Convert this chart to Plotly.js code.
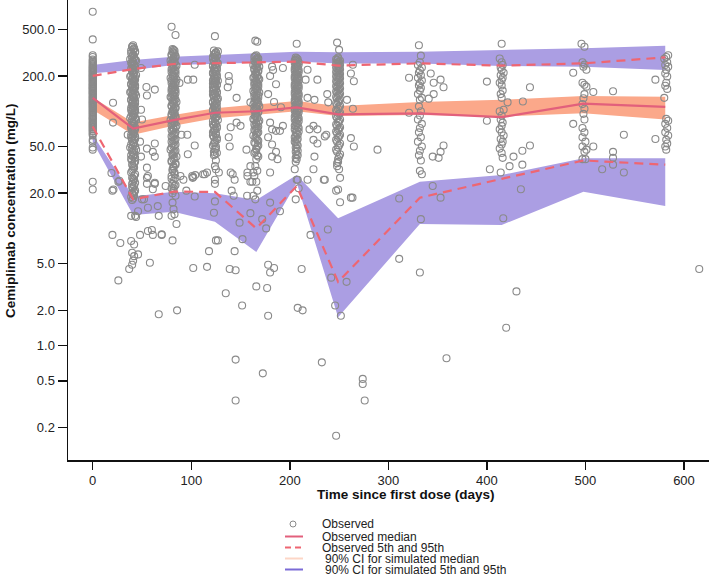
<!DOCTYPE html>
<html><head><meta charset="utf-8">
<script src="https://cdn.plot.ly/plotly-3.0.1.min.js"></script>
<style>html,body{margin:0;padding:0;background:#fff}#chart{width:709px;height:578px}</style>
</head><body><div id="chart"></div>
<script>
// nominal visit days (bin centres)
const bins = [0, 41, 82, 124, 166, 207, 249, 332, 415, 498, 581];
const obsMedian = [130, 71, 84, 97, 100, 108, 94, 96, 89, 116, 109];
const obsP5 = [74, 17.7, 20.6, 20.5, 10, 23, 3.5, 18.3, 26.5, 38, 35];
const obsP95 = [200, 229, 253, 256, 259, 265, 245, 256, 245, 256, 288];
const simMedLo = [103, 63, 75, 87, 93, 100, 91, 93, 90, 96, 85];
const simMedHi = [131, 80, 93, 106, 114, 122, 111, 120, 125, 135, 133];
const simP5Lo = [55, 13.0, 13.9, 11.4, 6.3, 24.5, 1.75, 10.9, 10.7, 20.6, 15.5];
const simP5Hi = [63, 18.7, 20.6, 20, 17.5, 28.6, 12.2, 25, 28.6, 39.6, 39.6];
const simP95Lo = [211, 225, 248, 256, 259, 265, 256, 256, 243, 240, 225];
const simP95Hi = [248, 273, 292, 301, 312, 322, 318, 322, 333, 344, 362];

// observed concentrations, day 0
const visit0Conc = [706,410,300,290,276,263,251,241,233,224,217,210,203,197,190,184,178,171,166,160,156,150,145,141,135,130,126,121,117,113,109,105,101,97,93,89,86,82,79,76,73,70,67,64,62,57,55,49,47,25,21.5,
  270,258,246,236,228,220,213,206,200,193,187,181,175,169,163,158,153,148,143,138,133,128,123,119,115,111,107,103,99,95,91,87,84,80,77,74,71,68,65];
// [day, conc]
const visit42 = [[41,365],[40,352],[42,340],[39,330],[43,318],[41,305],[40,296],[42,287],[38,278],[44,270],[41,262],[40,254],[42,246],[43,238],[39,231],[41,224],[40,217],[42,210],[44,204],[38,198],[41,192],[43,186],[40,180],[42,174],[39,169],[41,164],[43,159],[40,154],[42,149],[38,145],[41,140],[44,136],[40,132],[42,128],[39,124],[41,120],[43,116],[40,112],[42,109],[41,105],[39,102],[43,99],[40,96],[42,93],[41,90],[38,87],[44,84],[40,81],[42,78],[41,75],[39,72],[43,70],[40,67],[42,65],[41,62],[39,60],[43,58],[40,56],[42,53],[41,51],[38,49],[44,47],[40,45],[42,43],[41,41],[39,39],[43,37],[40,35],[42,33],[41,32],[39,30],[43,29],[40,27],[42,26],[41,25],[40,24],[42,23],[41,22],[43,21],[40,20],[42,19],[41,18],[40,17.5],[43,12.8],[44,12.5],[46,14],[39,12.8]];
const visit42b = [[40,357],[42,345],[41,335],[43,324],[39,312],[41,300],[42,291],[40,282],[43,274],[41,266],[39,258],[42,250],[40,242],[41,234],[43,227],[40,220],[42,213],[41,207],[39,201],[43,195],[40,189],[42,183],[41,177],[39,171],[43,166],[40,161],[42,156],[41,151],[39,147],[43,142],[40,138],[42,134],[41,130],[39,126],[43,122],[40,118],[42,114],[41,110],[39,107],[43,103],[40,100],[42,97],[41,94],[39,91],[43,88],[40,85],[42,82],[41,79],[39,76],[43,73],[40,71],[42,68],[41,66],[39,63],[43,61],[40,59],[42,57],[41,54],[39,52],[43,50],[40,48],[42,46],[41,44],[39,42],[43,40],[40,38],[42,36],[41,34],[40,31],[42,28],[41,26.5],[43,24.5],[40,22.5],[42,20.5],[41,19.5],[39,18.5]];
const scatter42 = [[20.6,118],[20.6,80],[19,29.7],[21,21.5],[26,25],[35.5,63],[49,234],[54.5,161],[63,153],[55,136],[49,103],[50,85],[48,55],[55,48],[63,53],[61,45],[63,41],[49,41],[55,33],[55,27],[63,24.5],[55,24],[61,21.6],[50,17.7],[66,15.5],[20,21],[27,25.5],[20,8.8],[28,7.5],[26,3.6],[39,7.8],[42,7.3],[40,6.2],[42,5.8],[41,5.3],[40,4.9],[46,6.0],[37,4.5],[48,8.8],[56,9.5],[60,9.7],[61,8.8],[70,8.8],[58,5.1],[67,12.8],[56,15],[63,24],[56,28],[52,17.7],[67,1.85]];
const visit84 = [[80,526],[84,447],[82,334],[81,322],[83,310],[80,300],[84,290],[82,280],[79,270],[83,261],[81,252],[85,244],[82,236],[80,228],[84,220],[82,213],[81,206],[83,199],[79,192],[85,186],[82,180],[80,174],[84,168],[82,162],[81,157],[83,152],[80,147],[84,142],[82,137],[79,132],[83,128],[81,124],[85,120],[82,116],[80,112],[84,108],[82,104],[81,100],[83,97],[80,94],[84,90],[82,87],[79,84],[83,81],[81,78],[85,75],[82,72],[80,69],[84,66],[82,63],[81,60],[83,57],[80,55],[84,52],[82,50],[79,47],[83,45],[81,43],[85,41],[82,39],[80,37],[84,35],[82,33],[81,31],[83,30],[80,28],[84,27],[82,25.5],[81,24],[83,23],[80,22],[82,21],[84,19],[81,16.6],[82,14.6],[80,12.8],[83,13.2]];
const visit84b = [[81,340],[83,328],[82,316],[80,305],[84,295],[82,285],[81,275],[83,265],[80,257],[84,248],[82,240],[81,232],[83,224],[80,216],[84,209],[82,202],[81,196],[83,189],[80,183],[84,177],[82,171],[81,165],[83,160],[80,155],[84,150],[82,145],[81,140],[83,135],[80,130],[84,126],[82,122],[81,118],[83,114],[80,110],[84,106],[82,102],[81,99],[83,95],[80,92],[84,88],[82,85],[81,82],[83,79],[80,76],[84,73],[82,70],[81,67],[83,64],[80,61],[84,58],[82,56],[81,53],[83,51],[80,49],[84,46],[82,44],[81,42],[83,40],[80,38],[84,36],[82,34],[81,32],[83,29],[80,26.5],[84,23.5],[82,22],[81,20]];
const scatter84 = [[103.5,249],[96.5,186],[102,186],[88,174],[96,63],[90,63],[96.5,43],[101,28],[102,27.5],[104,28.5],[113.7,29],[103.5,18.7],[74,23],[103.5,51],[85,10.9],[81,7.9],[102,4.6],[95,21],[89,28],[92,26],[85.6,2.0],[70,8.9]];
const visit126 = [[124,437],[127,324],[125,315],[123,305],[126,296],[124,287],[122,279],[125,271],[123,263],[127,256],[124,249],[122,242],[126,235],[124,228],[123,222],[125,216],[122,210],[126,204],[124,198],[123,192],[125,187],[127,182],[124,177],[122,172],[126,167],[124,162],[123,157],[125,152],[122,148],[126,144],[124,140],[123,136],[125,132],[127,128],[124,124],[122,120],[126,117],[124,113],[123,110],[125,106],[122,103],[126,100],[124,96],[123,92],[125,88],[127,84],[124,80],[122,77],[126,74],[124,71],[123,68],[125,65],[122,62],[126,59],[124,56],[123,53],[125,50],[124,47],[126,44],[123,42],[124,34],[125,32],[128,30],[124,26],[124,17],[123,13.6],[124,24],[125,7.9],[127,7.9]];
const visit126b = [[123,330],[125,318],[124,308],[126,300],[122,292],[124,283],[125,275],[123,267],[126,259],[124,252],[122,245],[125,238],[123,231],[126,225],[124,219],[122,213],[125,207],[123,201],[126,195],[124,190],[122,184],[125,179],[123,174],[126,169],[124,164],[122,160],[125,155],[123,150],[126,146],[124,142],[122,138],[125,134],[123,130],[126,126],[124,122],[122,118],[125,115],[123,111],[126,108],[124,104],[122,101],[125,98],[123,94],[126,90],[124,86],[122,82],[125,78],[123,75],[126,72],[124,69],[122,66],[125,63],[123,60],[126,57],[124,54],[122,51],[125,48],[123,45],[124,43],[125,38]];
const scatter126 = [[138,200],[138.5,180],[137,160],[146,130],[140,73],[138,60],[139,50],[140,30],[146,80],[150,75],[142,29],[144,26],[112,29],[116,30],[101.5,27],[118,6.4],[116,4.7],[144,6.4],[139,4.5],[145,4.4],[152,8.1],[141,21],[143,19],[149,11.2],[135,2.8],[151.6,2.2],[145,0.76],[145,0.34]];
const visit168 = [[165,400],[167,392],[166,300],[164,290],[168,281],[166,272],[165,264],[167,256],[163,248],[169,240],[166,233],[164,226],[168,219],[166,212],[165,205],[167,199],[163,193],[169,187],[166,181],[164,175],[168,170],[166,164],[165,159],[167,154],[163,149],[169,144],[166,139],[164,135],[168,130],[166,126],[165,122],[167,118],[163,114],[169,110],[166,106],[164,103],[168,99],[166,96],[165,92],[167,89],[163,86],[169,83],[166,80],[164,77],[168,74],[166,71],[165,68],[167,65],[163,62],[166,59],[168,56],[165,53],[167,50],[166,47],[164,44],[168,41],[166,39],[165,34],[167,31],[164,28],[166,25],[167,21],[165,17.7],[166,3.2]];
const visit168b = [[165,295],[167,285],[166,276],[164,268],[168,260],[166,252],[165,244],[167,236],[164,229],[168,222],[166,215],[165,208],[167,202],[164,196],[168,190],[166,184],[165,178],[167,172],[164,167],[168,162],[166,157],[165,152],[167,147],[164,142],[168,137],[166,133],[165,128],[167,124],[164,120],[168,116],[166,112],[165,108],[167,104],[164,101],[168,98],[166,94],[165,90],[167,87],[164,84],[168,81],[166,78],[165,75],[167,72],[164,69],[168,66],[166,63],[165,60],[167,57],[164,54],[168,51],[166,48],[165,45],[167,42]];
const scatter168 = [[182,240],[183,225],[180,200],[186,170],[178,140],[184,120],[180,80],[182,70],[186,68],[190,68],[178,60],[182,52],[186,45],[182,41],[187.5,39],[160,119],[156,47],[157,30],[163,30],[160,25],[157,28],[160,34],[162,25],[163,19],[180,16.6],[180,30],[160,13.5],[172,12],[176,10],[190,14],[178,4.9],[184,4.6],[180,4.2],[177,3.1],[172.6,0.58],[178,1.8],[156.7,19]];
const visit210 = [[207,376],[206,287],[208,278],[205,270],[209,262],[207,254],[206,246],[208,239],[205,232],[209,225],[207,218],[206,211],[208,205],[205,199],[209,193],[207,187],[206,181],[208,175],[205,170],[209,165],[207,160],[206,155],[208,150],[205,146],[209,141],[207,137],[206,133],[208,129],[205,125],[209,121],[207,117],[206,113],[208,110],[205,106],[209,103],[207,100],[206,96],[208,93],[205,90],[209,87],[207,84],[206,81],[208,78],[205,75],[209,72],[207,69],[206,66],[208,63],[205,60],[207,57],[206,54],[208,51],[207,48],[206,45],[208,42],[207,39],[206,37],[205,32],[207,26],[209,22],[206,17.7],[208,26]];
const visit210b = [[207,283],[206,274],[208,266],[205,258],[209,250],[207,242],[206,235],[208,228],[205,221],[209,215],[207,208],[206,202],[208,196],[205,190],[209,184],[207,178],[206,172],[208,167],[205,162],[209,157],[207,152],[206,148],[208,143],[205,139],[209,135],[207,131],[206,127],[208,123],[205,119],[209,115],[207,111],[206,108],[208,105],[205,101],[209,98],[207,95],[206,92],[208,88],[205,85],[209,82],[207,79],[206,76],[208,73],[205,70],[209,67],[207,64],[206,61],[208,58],[205,55],[207,52],[206,49],[208,46],[207,43],[206,40]];
const scatter210 = [[218,226],[228,186],[216,186],[218,130],[225,125],[224,75],[228,70],[220,70],[224,57],[228,53],[225,41],[224,32],[218,26],[235.5,26],[237,63],[238,140],[193,234],[193,75],[191,108],[221,8.8],[212,4.5],[208,2.1],[213,2.0],[234.5,26],[238.6,9.8],[232.5,0.72]];
const visit252 = [[248,385],[250,334],[249,287],[247,278],[251,269],[249,260],[248,252],[250,244],[247,236],[251,228],[249,220],[248,212],[250,205],[247,198],[251,191],[249,184],[248,177],[250,170],[247,163],[251,156],[249,150],[248,144],[250,138],[247,132],[251,126],[249,120],[248,114],[250,108],[247,102],[251,97],[249,92],[248,87],[250,82],[247,77],[251,73],[249,69],[248,65],[250,61],[247,57],[251,53],[249,49],[248,45],[250,41],[249,37],[248,34],[250,32],[251,27],[249,21.5],[251,16.7],[247,21]];
const visit252b = [[249,282],[248,273],[250,264],[247,256],[251,248],[249,240],[248,232],[250,224],[247,216],[251,208],[249,201],[248,194],[250,187],[247,180],[251,173],[249,166],[248,160],[250,153],[247,147],[251,141],[249,135],[248,129],[250,123],[247,117],[251,111],[249,105],[248,100],[250,95],[247,90],[251,85],[249,80],[248,75],[250,71],[247,67],[251,63],[249,59],[248,55],[250,51],[247,47],[251,43],[249,39],[248,36]];
const scatter252 = [[264,249],[262,210],[265,180],[258,125],[264,105],[262,59],[265,50],[262,18.3],[239,119],[235.5,61],[263.6,18.3],[242,3.8],[257.6,3.5],[246,2.2],[251.8,1.8],[247,0.17],[274,0.52],[274,0.47],[276,0.34],[289,47]];
const visit336 = [[331,365],[333,298],[332,262],[330,248],[334,236],[332,224],[331,213],[333,203],[330,193],[334,183],[332,174],[331,166],[333,158],[332,150],[330,140],[334,130],[332,125],[331,110],[333,100],[332,92],[330,85],[334,78],[332,72],[331,66],[333,60],[330,55],[334,50],[332,46],[331,42],[333,38],[332,31],[334,29],[333,12]];
const scatter336 = [[321,193],[343,210],[353,186],[356,160],[346,175],[346,140],[341,128],[321,97],[356,51],[353,45],[351,40],[345,41],[345,23],[353,18.3],[311,18],[311,5.5],[332,4.2],[359,0.78]];
const visit420 = [[415,376],[413,282],[415,262],[416,248],[414,236],[415,224],[417,213],[414,203],[416,193],[415,184],[413,175],[415,166],[416,150],[414,140],[415,130],[421,119],[417,103],[413,100],[415,92],[414,85],[416,80],[415,75],[413,70],[415,66],[417,62],[414,58],[416,55],[415,52],[413,48],[415,44],[416,40],[414,30],[416.6,12.2]];
const scatter420 = [[436.5,121],[443.7,160],[400,179],[400,83],[443.7,51],[436,46],[427,41],[436,35],[423,34],[403,32],[434.5,21.6],[419.6,1.42],[430,2.9]];
const visit504 = [[496,376],[499,355],[497,262],[499,250],[501,226],[498,240],[497,175],[499,168],[501,162],[498,129],[497,115],[499,105],[499,85],[497,72],[499,66],[497,60],[500,55],[497,50],[501,47],[499,45],[497,39],[500,39],[498,95],[499,140]];
const scatter504 = [[487.6,213],[508,146],[528,148],[487.6,78],[508,50],[539,63],[528,45],[528,40],[528,35],[517,32],[539,30]];
const visit588 = [[584,300],[582,290],[580,280],[583,262],[581,248],[584,240],[582,226],[581,210],[583,198],[582,175],[581,165],[583,155],[580,130],[582,86],[584,83],[581,78],[583,72],[581,66],[584,62],[582,57],[583,53],[581,50],[582,47],[571,186],[571,58],[615.5,4.5]];

const pairs = [].concat(visit42, visit42b, scatter42, visit84, visit84b, scatter84, visit126, visit126b, scatter126,
  visit168, visit168b, scatter168, visit210, visit210b, scatter210, visit252, visit252b, scatter252,
  visit336, scatter336, visit420, scatter420, visit504, scatter504, visit588);
const obsDay = visit0Conc.map(() => 0).concat(pairs.map(p => p[0]));
const obsConc = visit0Conc.concat(pairs.map(p => p[1]));

const purple = 'rgb(171,158,227)';
const orange = 'rgb(251,168,138)';
const redMed = '#e2607c';
const redDash = '#ee6672';
const gray = '#8a8a8a';
const FONT = 'Liberation Sans, Arial, sans-serif';

function band(lo, hi, color) {
  return {x: bins.concat(bins.slice().reverse()), y: hi.concat(lo.slice().reverse()),
    type: 'scatter', mode: 'lines', fill: 'toself', fillcolor: color,
    line: {width: 0, color: color}, hoverinfo: 'skip', showlegend: false};
}

const traces = [
  band(simP95Lo, simP95Hi, purple),
  band(simP5Lo, simP5Hi, purple),
  band(simMedLo, simMedHi, orange),
  {x: obsDay, y: obsConc, type: 'scatter', mode: 'markers', showlegend: false,
   marker: {symbol: 'circle-open', size: 7, color: gray, line: {width: 1.1, color: gray}}},
  {x: bins, y: obsMedian, type: 'scatter', mode: 'lines', showlegend: false, line: {color: redMed, width: 2.2}},
  {x: bins, y: obsP5, type: 'scatter', mode: 'lines', showlegend: false, line: {color: redDash, width: 2.2, dash: '9px,6px'}},
  {x: bins, y: obsP95, type: 'scatter', mode: 'lines', showlegend: false, line: {color: redDash, width: 2.2, dash: '9px,6px'}}
];

// layout geometry (pixels)
const L = 68, R = 709, T = 0, B = 460;
const px = v => (v - L) / (R - L);
const py = v => (B - v) / (B - T);

const legendItems = ['Observed', 'Observed median', 'Observed 5th and 95th', '90% CI for simulated median', '90% CI for simulated 5th and 95th'];
const legendRowsY = [524, 536.5, 547.5, 558.5, 569.5];
const legendTextX = [320, 320, 320, 323, 323];

const annotations = [
  {text: '<b>Time since first dose (days)</b>', xref: 'paper', yref: 'paper', x: px(406), y: py(494),
   xanchor: 'center', yanchor: 'middle', showarrow: false, font: {family: FONT, size: 13.5, color: '#111'}},
  {text: '<b>Cemiplimab concentration (mg/L)</b>', xref: 'paper', yref: 'paper', x: px(10), y: py(211),
   xanchor: 'center', yanchor: 'middle', textangle: -90, showarrow: false, font: {family: FONT, size: 13.5, color: '#111'}}
];
legendItems.forEach((t, i) => annotations.push({text: t, xref: 'paper', yref: 'paper', x: px(legendTextX[i]), y: py(legendRowsY[i]),
  xanchor: 'left', yanchor: 'middle', showarrow: false, font: {family: FONT, size: 12, color: '#222'}}));

const shapes = [
  {type: 'circle', xref: 'paper', yref: 'paper', xsizemode: 'pixel', ysizemode: 'pixel',
   xanchor: px(293), yanchor: py(524), x0: -3, x1: 3, y0: -3, y1: 3, line: {color: gray, width: 1}},
  {type: 'line', xref: 'paper', yref: 'paper', x0: px(285), x1: px(303), y0: py(536.5), y1: py(536.5), line: {color: redMed, width: 2}},
  {type: 'line', xref: 'paper', yref: 'paper', x0: px(285), x1: px(303), y0: py(547.5), y1: py(547.5), line: {color: redDash, width: 2, dash: '6px,4px'}},
  {type: 'line', xref: 'paper', yref: 'paper', x0: px(285), x1: px(303), y0: py(558.5), y1: py(558.5), line: {color: '#fdd6c6', width: 2}},
  {type: 'line', xref: 'paper', yref: 'paper', x0: px(285), x1: px(303), y0: py(569.5), y1: py(569.5), line: {color: '#7b6bd6', width: 2}}
];

const layout = {
  width: 709, height: 578,
  margin: {l: L, r: 709 - R, t: T, b: 578 - B},
  paper_bgcolor: '#fff', plot_bgcolor: '#fff',
  showlegend: false,
  font: {family: FONT, size: 13, color: '#222'},
  xaxis: {range: [-25.1, 625.4], tickvals: [0, 100, 200, 300, 400, 500, 600], ticktext: ['0','100','200','300','400','500','600'],
    showline: true, linecolor: '#111', linewidth: 1.5, ticks: 'outside', ticklen: 8, tickwidth: 1.5, tickcolor: '#111',
    showgrid: false, zeroline: false, tickfont: {family: FONT, size: 13, color: '#222'}},
  yaxis: {type: 'log', range: [-0.976, 2.949], tickvals: [0.2, 0.5, 1, 2, 5, 20, 50, 200, 500],
    ticktext: ['0.2','0.5','1.0','2.0','5.0','20.0','50.0','200.0','500.0'],
    showline: true, linecolor: '#111', linewidth: 1.5, ticks: 'outside', ticklen: 9, tickwidth: 1.5, tickcolor: '#111',
    showgrid: false, zeroline: false, tickfont: {family: FONT, size: 13, color: '#222'}},
  annotations: annotations,
  shapes: shapes
};

Plotly.newPlot('chart', traces, layout, {displayModeBar: false, staticPlot: true});
</script></body></html>
